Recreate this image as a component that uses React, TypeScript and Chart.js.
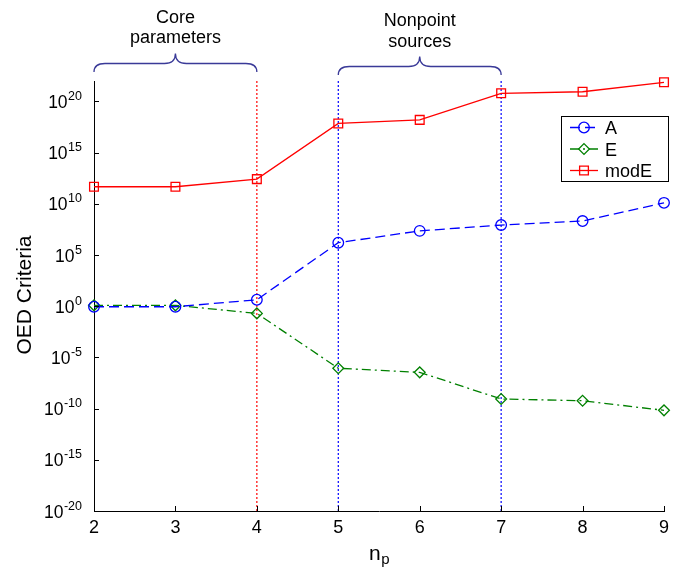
import React, { useEffect, useRef } from 'react';
import { Chart, registerables } from 'chart.js';

Chart.register(...registerables);

// ---------- data ----------
const nValues = [2, 3, 4, 5, 6, 7, 8, 9];
const seriesA = [0.89, 0.89, 4.3, 1.6e6, 2.3e7, 8.5e7, 2.1e8, 1.26e10];
const seriesE = [1.23, 1.23, 0.2, 8.7e-7, 3.5e-7, 8.7e-10, 5.9e-10, 6.8e-11];
const seriesModE = [4.7e11, 4.7e11, 2.6e12, 7.2e17, 1.6e18, 6.3e20, 8.9e20, 7.4e21];
const seriesNames = ['A', 'E', 'modE'];
const xTickValues = [2, 3, 4, 5, 6, 7, 8, 9];
const yTickExponents = [-20, -15, -10, -5, 0, 5, 10, 15, 20];
const yMin = 1e-20;
const yMax = 1e22;
const markerLineX = [4, 5, 7];
const braceGroups = [
  { from: 2, to: 4, text: ['Core', 'parameters'] },
  { from: 5, to: 7, text: ['Nonpoint', 'sources'] },
];
const xTitle = 'n';
const xTitleSub = 'p';
const yTitle = 'OED Criteria';

// ---------- styles ----------
const FONT = '"Liberation Sans", Arial, Helvetica, sans-serif';
const BLUE = '#0000ff';
const GREEN = '#008000';
const RED = '#ff0000';
const BRACE = '#3a3a98';

const seriesStyles = [
  { color: BLUE, dash: [10, 5], point: 'circle', radius: 5.3 },
  { color: GREEN, dash: [9, 4, 2, 4], point: 'rectRot', radius: 5.4 },
  { color: RED, dash: [], point: 'rect', radius: 6.2 },
];
const markerLineColors = [RED, BLUE, BLUE];

function drawMarker(ctx: CanvasRenderingContext2D, style: string, x: number, y: number, r: number) {
  ctx.beginPath();
  if (style === 'circle') {
    ctx.arc(x, y, r, 0, Math.PI * 2);
  } else if (style === 'rectRot') {
    ctx.moveTo(x, y - r);
    ctx.lineTo(x + r, y);
    ctx.lineTo(x, y + r);
    ctx.lineTo(x - r, y);
    ctx.closePath();
  } else {
    const h = r * Math.SQRT1_2;
    ctx.rect(x - h, y - h, 2 * h, 2 * h);
  }
  ctx.stroke();
}

function drawBrace(ctx: CanvasRenderingContext2D, x0: number, x1: number, yEnd: number, yMid: number, yTip: number) {
  const xc = (x0 + x1) / 2;
  const r = 11;
  ctx.beginPath();
  ctx.moveTo(x0, yEnd);
  ctx.quadraticCurveTo(x0, yMid, x0 + r, yMid);
  ctx.lineTo(xc - r, yMid);
  ctx.quadraticCurveTo(xc, yMid, xc, yTip);
  ctx.moveTo(x1, yEnd);
  ctx.quadraticCurveTo(x1, yMid, x1 - r, yMid);
  ctx.lineTo(xc + r, yMid);
  ctx.quadraticCurveTo(xc, yMid, xc, yTip);
  ctx.stroke();
}

const overlayPlugin = {
  id: 'overlay',
  afterDraw(chart: any) {
    const ctx: CanvasRenderingContext2D = chart.ctx;
    const xs = chart.scales.x;
    const ys = chart.scales.y;
    const { left, bottom } = chart.chartArea;
    ctx.save();

    // inward tick marks
    ctx.strokeStyle = '#000';
    ctx.lineWidth = 1;
    ctx.setLineDash([]);
    ctx.beginPath();
    for (const v of xTickValues) {
      const px = Math.round(xs.getPixelForValue(v)) + 0.5;
      ctx.moveTo(px, bottom);
      ctx.lineTo(px, bottom - 5);
    }
    for (const e of yTickExponents) {
      const py = Math.round(ys.getPixelForValue(Math.pow(10, e))) + 0.5;
      ctx.moveTo(left, py);
      ctx.lineTo(left + 5, py);
    }
    ctx.stroke();

    // y tick labels 10^e
    ctx.fillStyle = '#000';
    ctx.textAlign = 'right';
    ctx.textBaseline = 'alphabetic';
    for (const e of yTickExponents) {
      const py = ys.getPixelForValue(Math.pow(10, e));
      const exp = String(e);
      ctx.font = `12.5px ${FONT}`;
      const ew = ctx.measureText(exp).width;
      const xr = left - 12;
      ctx.fillText(exp, xr, py - 1.5);
      ctx.font = `17.5px ${FONT}`;
      ctx.fillText('10', xr - ew - 0.5, py + 6.5);
    }

    // axis titles
    ctx.save();
    ctx.translate(25.5, 295);
    ctx.rotate(-Math.PI / 2);
    ctx.textAlign = 'center';
    ctx.textBaseline = 'middle';
    ctx.font = `21px ${FONT}`;
    ctx.fillText(yTitle, 0, 0);
    ctx.restore();

    ctx.textAlign = 'left';
    ctx.textBaseline = 'alphabetic';
    ctx.font = `21px ${FONT}`;
    const nw = ctx.measureText(xTitle).width;
    const xc = (xs.left + xs.right) / 2;
    ctx.fillText(xTitle, xc - 10, 560);
    ctx.font = `15px ${FONT}`;
    ctx.fillText(xTitleSub, xc - 10 + nw + 0.5, 564);

    // braces + annotation text
    ctx.strokeStyle = BRACE;
    ctx.lineWidth = 1.3;
    braceGroups.forEach((g, i) => {
      const x0 = xs.getPixelForValue(g.from);
      const x1 = xs.getPixelForValue(g.to);
      const off = i === 0 ? 0 : 3;
      drawBrace(ctx, x0, x1, 72 + off, 63.5 + off, 53.5 + off);
      ctx.fillStyle = '#000';
      ctx.textAlign = 'center';
      ctx.font = `18px ${FONT}`;
      const base = i === 0 ? 22.5 : 26;
      ctx.fillText(g.text[0], (x0 + x1) / 2, base);
      ctx.fillText(g.text[1], (x0 + x1) / 2, base + 20.5);
    });

    // legend
    const bx = 561, by = 116, bw = 107, bh = 65;
    ctx.fillStyle = '#fff';
    ctx.fillRect(bx, by, bw, bh);
    ctx.strokeStyle = '#000';
    ctx.lineWidth = 1;
    ctx.setLineDash([]);
    ctx.strokeRect(bx + 0.5, by + 0.5, bw, bh);
    seriesNames.forEach((name, i) => {
      const st = seriesStyles[i];
      const y = 127.5 + i * 21.5;
      ctx.strokeStyle = st.color;
      ctx.lineWidth = 1.3;
      ctx.setLineDash(st.dash);
      ctx.beginPath();
      ctx.moveTo(570, y);
      ctx.lineTo(598, y);
      ctx.stroke();
      ctx.setLineDash([]);
      drawMarker(ctx, st.point, 584, y, st.radius);
      ctx.fillStyle = '#000';
      ctx.textAlign = 'left';
      ctx.font = `18px ${FONT}`;
      ctx.fillText(name, 605, y + 6.5);
    });

    ctx.restore();
  },
};

export default function App() {
  const canvasRef = useRef<HTMLCanvasElement | null>(null);

  useEffect(() => {
    const canvas = canvasRef.current;
    if (!canvas) return;
    const seriesValues = [seriesA, seriesE, seriesModE];
    const mainSets = seriesNames.map((name, i) => ({
      label: name,
      data: nValues.map((n, k) => ({ x: n, y: seriesValues[i][k] })),
      borderColor: seriesStyles[i].color,
      backgroundColor: 'rgba(0,0,0,0)',
      borderWidth: 1.3,
      borderDash: seriesStyles[i].dash,
      pointStyle: seriesStyles[i].point,
      pointRadius: seriesStyles[i].radius,
      pointBorderWidth: 1.3,
      pointBorderColor: seriesStyles[i].color,
      pointBackgroundColor: 'rgba(0,0,0,0)',
      tension: 0,
      fill: false,
      clip: false as any,
    }));
    const lineSets = markerLineX.map((xv, i) => ({
      label: 'marker' + xv,
      data: [
        { x: xv, y: yMin },
        { x: xv, y: yMax },
      ],
      borderColor: markerLineColors[i],
      borderWidth: 1.2,
      borderDash: [2, 2],
      pointRadius: 0,
      fill: false,
    }));

    const chart = new Chart(canvas, {
      type: 'line',
      data: { datasets: [...mainSets, ...lineSets] as any },
      options: {
        responsive: false,
        animation: false,
        devicePixelRatio: 1,
        layout: { padding: { left: 0, top: 81, right: 16, bottom: 0 } },
        plugins: {
          legend: { display: false },
          tooltip: { enabled: false },
        },
        scales: {
          x: {
            type: 'linear',
            min: 2,
            max: 9,
            grid: { display: false, drawTicks: false },
            border: { display: true, color: '#000', width: 1 },
            ticks: {
              stepSize: 1,
              color: '#000',
              padding: 6,
              font: { family: FONT, size: 18 },
              callback: (v: any) => String(v),
            },
            afterFit: (s: any) => {
              s.height = 59;
            },
          },
          y: {
            type: 'logarithmic',
            min: yMin,
            max: yMax,
            grid: { display: false, drawTicks: false },
            border: { display: true, color: '#000', width: 1 },
            ticks: { display: false },
            afterFit: (s: any) => {
              s.width = 94;
            },
          },
        },
      } as any,
      plugins: [overlayPlugin],
    });
    return () => chart.destroy();
  }, []);

  return (
    <div style={{ position: 'absolute', left: 0, top: 0, width: 680, height: 570, background: '#fff' }}>
      <canvas ref={canvasRef} width={680} height={570} style={{ display: 'block' }} />
    </div>
  );
}
